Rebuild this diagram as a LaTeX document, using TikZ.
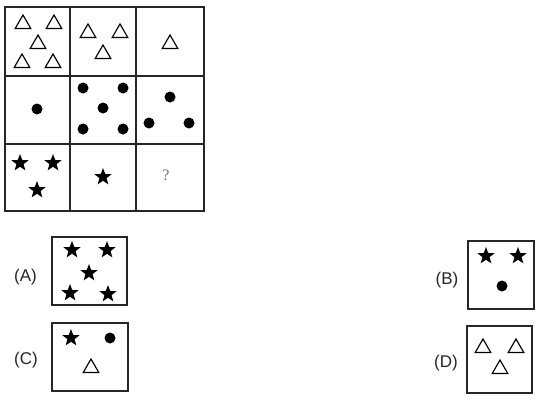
\documentclass[tikz,border=0pt]{standalone}
\usepackage{fontspec}
\setmainfont{Liberation Sans}
\newfontfamily\qfont{Liberation Serif}
\usetikzlibrary{shapes.geometric}
\begin{document}
\begin{tikzpicture}[x=1pt,y=-1pt,
  tri/.style={draw=black, line width=1.15pt, regular polygon, regular polygon sides=3, minimum size=18pt, inner sep=0pt},
  starshape/.style={fill=black, star, star points=5, star point ratio=2.4, minimum size=18pt, inner sep=0pt},
  dotshape/.style={fill=black, circle, minimum size=11pt, inner sep=0pt},
  gridline/.style={draw=black!85, line width=1.1pt},
  optbox/.style={draw=black!85, line width=1.4pt},
  lbl/.style={font=\fontsize{17}{20}\selectfont, inner sep=0pt, text=black!85}
]
\useasboundingbox[fill=white] (0,0) rectangle (543,407);

% grid
\draw[gridline] (5,7) rectangle (204,211);
\draw[gridline] (70,7) -- (70,211);
\draw[gridline] (136,7) -- (136,211);
\draw[gridline] (5,76) -- (204,76);
\draw[gridline] (5,144) -- (204,144);

% row 1: triangles
\foreach \p [count=\i] in {(23,24),(54,24),(38,44),(22,63),(53,63)}
  \node[tri] (ta\i) at \p {};
\foreach \p [count=\i] in {(88,33),(120,33),(103,54)}
  \node[tri] (tb\i) at \p {};
\node[tri] (tc1) at (170,44) {};

% row 2: dots
\node[dotshape] (da1) at (37,109) {};
\foreach \p [count=\i] in {(83,88),(123,88),(103,108),(83,129),(123,129)}
  \node[dotshape] (db\i) at \p {};
\foreach \p [count=\i] in {(170,97),(149,123),(189,123)}
  \node[dotshape] (dc\i) at \p {};

% row 3: stars
\foreach \p [count=\i] in {(20,163),(53,163),(37,190)}
  \node[starshape] (sa\i) at \p {};
\node[starshape] (sb1) at (103,177) {};
\node[text=black!55, font=\qfont\fontsize{16}{18}\selectfont] (q) at (166,175) {?};

% option A
\draw[optbox] (52,237) rectangle (127,305);
\node[lbl] (la) at (25.5,277) {(A)};
\foreach \p [count=\i] in {(72,250),(107,250),(89,273),(70,293),(108,294)}
  \node[starshape] (oa\i) at \p {};

% option C
\draw[optbox] (52,323) rectangle (128,391);
\node[lbl] (lc) at (26,360) {(C)};
\node[starshape] (oc1) at (71,338) {};
\node[dotshape] (oc2) at (110,338) {};
\node[tri] (oc3) at (91,368) {};

% option B
\draw[optbox] (468,241) rectangle (534,309);
\node[lbl] (lb) at (447,280) {(B)};
\node[starshape] (ob1) at (486,256) {};
\node[starshape] (ob2) at (518,256) {};
\node[dotshape] (ob3) at (502,286) {};

% option D
\draw[optbox] (467,326) rectangle (532,393);
\node[lbl] (ld) at (446,363) {(D)};
\node[tri] (od1) at (483,348) {};
\node[tri] (od2) at (516,348) {};
\node[tri] (od3) at (500,369) {};
\end{tikzpicture}
\end{document}
